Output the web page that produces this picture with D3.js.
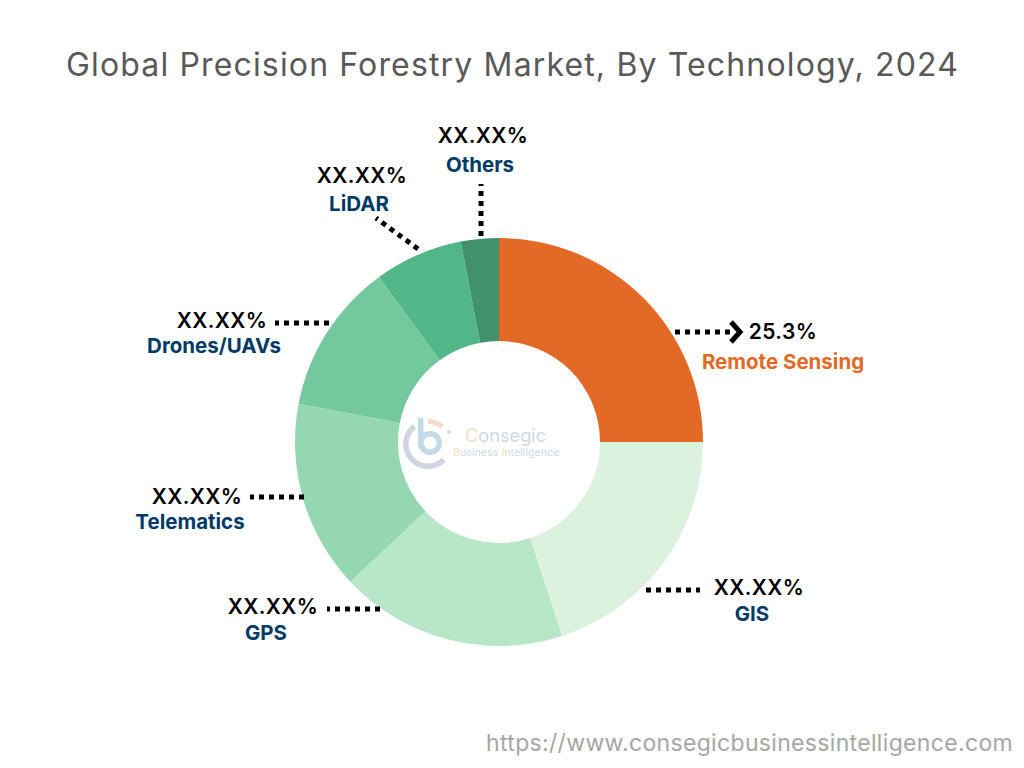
<!DOCTYPE html>
<html><head><meta charset="utf-8">
<script src="https://cdn.jsdelivr.net/npm/d3@7"></script>
<style>html,body{margin:0;padding:0;background:#fff}svg{display:block}text{font-family:Inter,sans-serif}</style>
</head><body><svg id="c" width="1024" height="768"></svg>
<script>
const categories=["Remote Sensing","GIS","GPS","Telematics","Drones/UAVs","LiDAR","Others"];
const values=[25,20,18,15,12,7,3];
const valueLabels=["25.3%","XX.XX%","XX.XX%","XX.XX%","XX.XX%","XX.XX%","XX.XX%"];
const colors=["#e36a26","#dbf2de","#b8e6c9","#94d7b0","#74c89e","#52b788","#40916c"];
const nameColors=["#e36a26","#003a66","#003a66","#003a66","#003a66","#003a66","#003a66"];
const titleText="Global Precision Forestry Market, By Technology, 2024";
const urlText="https://www.consegicbusinessintelligence.com";
// annotation layout, one per category: leader [x1,y1,x2,y2], value-label and name-label anchors
const leaders=[[675,332,735,332],[646,590,700,590],[380,609,327,609],[304,497,250,497],[329,323,275,323],[418,249,376,218],[481,236,481,184]];
const valueAt=[[783,339],[759,595],[273,614],[197,504],[222,328],[362,183],[483,143]];
const nameAt=[[783,369],[752,621],[266,640],[190,529],[214,353],[359,211],[480,172]];

const svg=d3.select("#c");
svg.append("text").attr("x",512.5).attr("y",76).attr("text-anchor","middle")
 .attr("font-size",32).attr("letter-spacing",1.15).attr("fill","#595959").attr("font-weight",400).text(titleText);

const cx=499,cy=442,R=204,r=101;
const pie=d3.pie().value(d=>d).sort(null);
const arc=d3.arc().innerRadius(r).outerRadius(R);
svg.append("g").attr("transform",`translate(${cx},${cy})`)
 .selectAll("path").data(pie(values)).join("path").attr("d",arc).attr("fill",(d,i)=>colors[i]);

// logo
const lg=svg.append("g").attr("transform","translate(428,444)");
const a2=d3.arc();
const arcPart=(ir,or,s,e,col,dx=0,dy=0)=>lg.append("path").attr("transform",`translate(${dx},${dy})`).attr("d",a2({innerRadius:ir,outerRadius:or,startAngle:s*Math.PI/180,endAngle:e*Math.PI/180})).attr("fill",col);
arcPart(19.5,25,135,322,"#d0d6e0");
arcPart(6.5,12,0,360,"#c5d9e9",2,-1);
lg.append("rect").attr("x",-10).attr("y",-26).attr("width",5.5).attr("height",25).attr("fill","#c5d9e9");
arcPart(20,25,0,40,"#f8dccb");
lg.append("circle").attr("cx",21).attr("cy",-12).attr("r",2).attr("fill","#f8d3bd");
lg.append("text").attr("x",37).attr("y",-2).attr("font-size",18.2).attr("font-family","Open Sans")
 .attr("fill","#d0d9e4").call(t=>{t.append("tspan").attr("fill","#f8dccb").text("C");t.append("tspan").text("onsegic");});
lg.append("text").attr("x",25).attr("y",12).attr("font-size",10.7).attr("font-family","Open Sans")
 .attr("fill","#d0d9e4").call(t=>{t.append("tspan").attr("fill","#f8dccb").text("B");t.append("tspan").text("usiness ");t.append("tspan").attr("fill","#f8dccb").text("I");t.append("tspan").text("ntelligence");});

// leaders
svg.append("g").selectAll("line").data(leaders).join("line")
 .attr("x1",d=>d[0]).attr("y1",d=>d[1]).attr("x2",d=>d[2]).attr("y2",d=>d[3])
 .attr("stroke","#000").attr("stroke-width",5).attr("stroke-dasharray","5 5");
const hd=leaders[0];
svg.append("path").attr("d",`M${hd[2]-4},${hd[3]-10}L${hd[2]+5},${hd[3]}L${hd[2]-4},${hd[3]+10}`)
 .attr("fill","none").attr("stroke","#000").attr("stroke-width",5);

svg.append("g").selectAll("text").data(valueLabels).join("text")
 .attr("x",(d,i)=>valueAt[i][0]).attr("y",(d,i)=>valueAt[i][1]).attr("text-anchor","middle")
 .attr("font-size",21).attr("font-weight",600).attr("letter-spacing",0.4).attr("fill","#000").text(d=>d);
svg.append("g").selectAll("text").data(categories).join("text")
 .attr("x",(d,i)=>nameAt[i][0]).attr("y",(d,i)=>nameAt[i][1]).attr("text-anchor","middle")
 .attr("font-size",20.5).attr("font-weight",700).attr("fill",(d,i)=>nameColors[i]).text(d=>d);

svg.append("text").attr("x",1013).attr("y",751).attr("text-anchor","end")
 .attr("font-size",23).attr("letter-spacing",0.33).attr("fill","#a6a6a6").text(urlText);
</script></body></html>
